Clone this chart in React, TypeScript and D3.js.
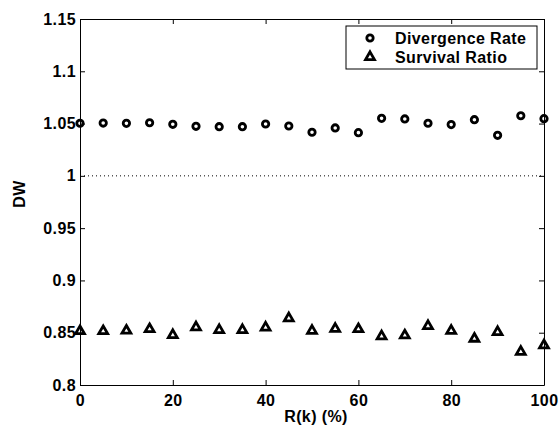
import React, { useEffect, useRef } from 'react';
import * as d3 from 'd3';

// R(k) values in percent
const rk = [0, 5, 10, 15, 20, 25, 30, 35, 40, 45, 50, 55, 60, 65, 70, 75, 80, 85, 90, 95, 100];

const divergenceRate = [
  1.0503, 1.0505, 1.0502, 1.0508, 1.0493, 1.0474, 1.047, 1.047, 1.0496, 1.0477, 1.0417,
  1.0458, 1.0413, 1.055, 1.0544, 1.0503, 1.049, 1.0537, 1.0388, 1.0575, 1.0547,
];

const survivalRatio = [
  0.8516, 0.8516, 0.852, 0.8535, 0.8478, 0.8552, 0.8526, 0.8526, 0.855, 0.8638, 0.8519,
  0.8538, 0.8535, 0.8466, 0.8475, 0.8564, 0.8519, 0.8443, 0.8507, 0.8318, 0.838,
];

const xTicks = [0, 20, 40, 60, 80, 100];
const yTicks = [0.8, 0.85, 0.9, 0.95, 1, 1.05, 1.1, 1.15];
const yTickLabels = ['0.8', '0.85', '0.9', '0.95', '1', '1.05', '1.1', '1.15'];

const App = () => {
  const svgRef = useRef(null);

  useEffect(() => {
    const svg = d3.select(svgRef.current);
    svg.selectAll('*').remove();

    const width = 560;
    const height = 433;
    const margin = { top: 19, right: 16, bottom: 48, left: 80 };
    const font = '"Liberation Sans", Arial, sans-serif';

    const x = d3.scaleLinear().domain([0, 100]).range([margin.left, width - margin.right]);
    const y = d3.scaleLinear().domain([0.8, 1.15]).range([height - margin.bottom, margin.top]);

    const bold = sel => sel
      .style('font-family', font)
      .style('font-size', '16px')
      .style('font-weight', 'bold')
      .style('letter-spacing', '0.4px');

    svg.append('rect').attr('width', width).attr('height', height).attr('fill', '#fff');

    const [x0, x1] = x.range();
    const [y0, y1] = y.range();

    // reference line at 1
    svg.append('line')
      .attr('x1', x0).attr('x2', x1)
      .attr('y1', y(1)).attr('y2', y(1))
      .attr('stroke', '#000')
      .attr('stroke-width', 1)
      .attr('stroke-dasharray', '1,3');

    // axes: ticks inside, mirrored
    const bottom = svg.append('g')
      .attr('transform', `translate(0,${y0})`)
      .call(d3.axisBottom(x).tickValues(xTicks).tickSizeInner(-5).tickSizeOuter(0).tickPadding(10));
    const top = svg.append('g')
      .attr('transform', `translate(0,${y1})`)
      .call(d3.axisTop(x).tickValues(xTicks).tickSizeInner(-5).tickSizeOuter(0).tickFormat(() => ''));
    const left = svg.append('g')
      .attr('transform', `translate(${x0},0)`)
      .call(d3.axisLeft(y).tickValues(yTicks).tickSizeInner(-5).tickSizeOuter(0).tickPadding(4)
        .tickFormat((d, i) => yTickLabels[i]));
    const right = svg.append('g')
      .attr('transform', `translate(${x1},0)`)
      .call(d3.axisRight(y).tickValues(yTicks).tickSizeInner(-5).tickSizeOuter(0).tickFormat(() => ''));

    [bottom, top, left, right].forEach(g => {
      g.select('.domain').attr('stroke', '#000').attr('stroke-width', 1);
      g.selectAll('.tick line').attr('stroke', '#000');
      g.selectAll('text').attr('fill', '#000').call(bold);
    });
    bottom.selectAll('.tick text').attr('dy', '0.71em');

    // markers
    svg.append('g')
      .selectAll('circle')
      .data(rk)
      .enter().append('circle')
      .attr('cx', d => x(d))
      .attr('cy', (d, i) => y(divergenceRate[i]))
      .attr('r', 3.2)
      .attr('fill', 'none')
      .attr('stroke', '#000')
      .attr('stroke-width', 2.8);

    const tri = d3.symbol().type(d3.symbolTriangle).size(34);
    svg.append('g')
      .selectAll('path')
      .data(rk)
      .enter().append('path')
      .attr('d', tri)
      .attr('transform', (d, i) => `translate(${x(d)},${y(survivalRatio[i])})`)
      .attr('fill', 'none')
      .attr('stroke', '#000')
      .attr('stroke-width', 2.8);

    // legend
    const lg = svg.append('g');
    lg.append('rect')
      .attr('x', 346).attr('y', 26).attr('width', 191).attr('height', 43)
      .attr('fill', '#fff').attr('stroke', '#000').attr('stroke-width', 1);
    lg.append('circle')
      .attr('cx', 370).attr('cy', 38).attr('r', 3.2)
      .attr('fill', 'none').attr('stroke', '#000').attr('stroke-width', 2.8);
    lg.append('path')
      .attr('d', tri)
      .attr('transform', 'translate(370,57)')
      .attr('fill', 'none').attr('stroke', '#000').attr('stroke-width', 2.8);
    [['Divergence Rate', 44], ['Survival Ratio', 63]].forEach(([t, yy]) => {
      lg.append('text')
        .attr('x', 395).attr('y', yy)
        .call(bold)
        .text(t);
    });

    // axis titles
    svg.append('text')
      .attr('x', (x0 + x1) / 2 + 4).attr('y', 422)
      .attr('text-anchor', 'middle')
      .call(bold)
      .text('R(k) (%)');
    svg.append('text')
      .attr('transform', `translate(25,${(y0 + y1) / 2 - 8}) rotate(-90)`)
      .attr('text-anchor', 'middle')
      .call(bold)
      .text('DW');
  }, []);

  return (
    <svg
      ref={svgRef}
      width={560}
      height={433}
      style={{ display: 'block', position: 'absolute', left: 0, top: 0 }}
    />
  );
};

export default App;
